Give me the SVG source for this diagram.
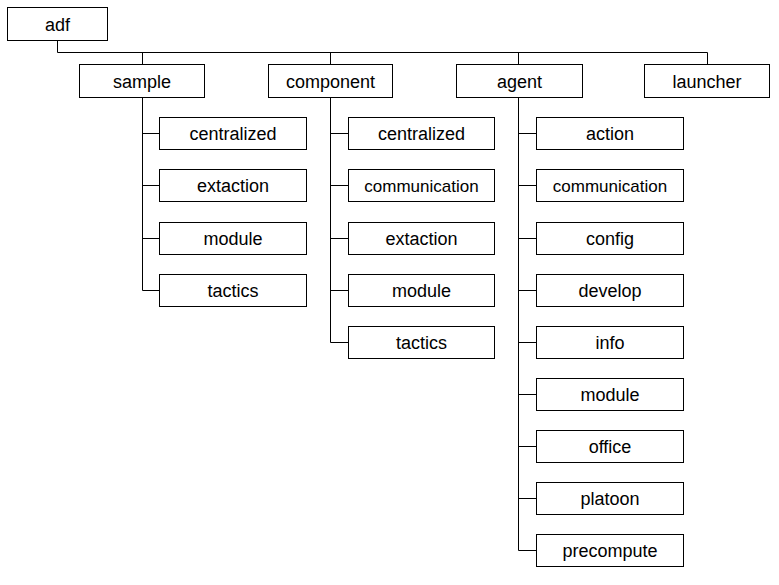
<svg xmlns="http://www.w3.org/2000/svg" width="779" height="585" viewBox="0 0 779 585">
<style>
rect{fill:#fff;stroke:#000;stroke-width:1}
text{font-family:"Liberation Sans",Arial,sans-serif;font-size:18px;text-anchor:middle;fill:#000}
.s{font-size:17px}
#connectors path{fill:none;stroke:#000;stroke-width:1}
</style>
<rect x="0" y="0" width="779" height="585" style="stroke:none"/>
<g id="connectors">
<path d="M57.5 40.5V52.5H707.5V64.5M142.5 52.5V64.5M330.5 52.5V64.5M518.5 52.5V64.5"/>
<path d="M142.5 97.5V290.5M142.5 133.5H159.5M142.5 185.5H159.5M142.5 238.5H159.5M142.5 290.5H159.5"/>
<path d="M330.5 97.5V342.5M330.5 133.5H348.5M330.5 185.5H348.5M330.5 238.5H348.5M330.5 290.5H348.5M330.5 342.5H348.5"/>
<path d="M518.5 97.5V550.5M518.5 133.5H536.5M518.5 185.5H536.5M518.5 238.5H536.5M518.5 290.5H536.5M518.5 342.5H536.5M518.5 394.5H536.5M518.5 446.5H536.5M518.5 498.5H536.5M518.5 550.5H536.5"/>
</g>
<g id="adf"><rect x="7.5" y="7.5" width="100" height="33"/><text x="57.5" y="31">adf</text></g>
<g id="sample"><rect x="79.5" y="64.5" width="125" height="33"/><text x="142" y="88">sample</text></g>
<g id="component"><rect x="268.5" y="64.5" width="124" height="33"/><text x="330.5" y="88">component</text></g>
<g id="agent"><rect x="456.5" y="64.5" width="126" height="33"/><text x="519.5" y="88">agent</text></g>
<g id="launcher"><rect x="644.5" y="64.5" width="125" height="33"/><text x="707" y="88">launcher</text></g>

<g id="sample-centralized"><rect x="159.5" y="117.5" width="147" height="32"/><text x="233" y="140">centralized</text></g>
<g id="sample-extaction"><rect x="159.5" y="169.5" width="147" height="32"/><text x="233" y="192">extaction</text></g>
<g id="sample-module"><rect x="159.5" y="222.5" width="147" height="32"/><text x="233" y="245">module</text></g>
<g id="sample-tactics"><rect x="159.5" y="274.5" width="147" height="32"/><text x="233" y="297">tactics</text></g>

<g id="component-centralized"><rect x="348.5" y="117.5" width="146" height="32"/><text x="421.5" y="140">centralized</text></g>
<g id="component-communication"><rect x="348.5" y="169.5" width="146" height="32"/><text class="s" x="421.5" y="192">communication</text></g>
<g id="component-extaction"><rect x="348.5" y="222.5" width="146" height="32"/><text x="421.5" y="245">extaction</text></g>
<g id="component-module"><rect x="348.5" y="274.5" width="146" height="32"/><text x="421.5" y="297">module</text></g>
<g id="component-tactics"><rect x="348.5" y="326.5" width="146" height="32"/><text x="421.5" y="349">tactics</text></g>

<g id="agent-action"><rect x="536.5" y="117.5" width="147" height="32"/><text x="610" y="140">action</text></g>
<g id="agent-communication"><rect x="536.5" y="169.5" width="147" height="32"/><text class="s" x="610" y="192">communication</text></g>
<g id="agent-config"><rect x="536.5" y="222.5" width="147" height="32"/><text x="610" y="245">config</text></g>
<g id="agent-develop"><rect x="536.5" y="274.5" width="147" height="32"/><text x="610" y="297">develop</text></g>
<g id="agent-info"><rect x="536.5" y="326.5" width="147" height="32"/><text x="610" y="349">info</text></g>
<g id="agent-module"><rect x="536.5" y="378.5" width="147" height="32"/><text x="610" y="401">module</text></g>
<g id="agent-office"><rect x="536.5" y="430.5" width="147" height="32"/><text x="610" y="453">office</text></g>
<g id="agent-platoon"><rect x="536.5" y="482.5" width="147" height="32"/><text x="610" y="505">platoon</text></g>
<g id="agent-precompute"><rect x="536.5" y="534.5" width="147" height="32"/><text x="610" y="557">precompute</text></g>
</svg>
